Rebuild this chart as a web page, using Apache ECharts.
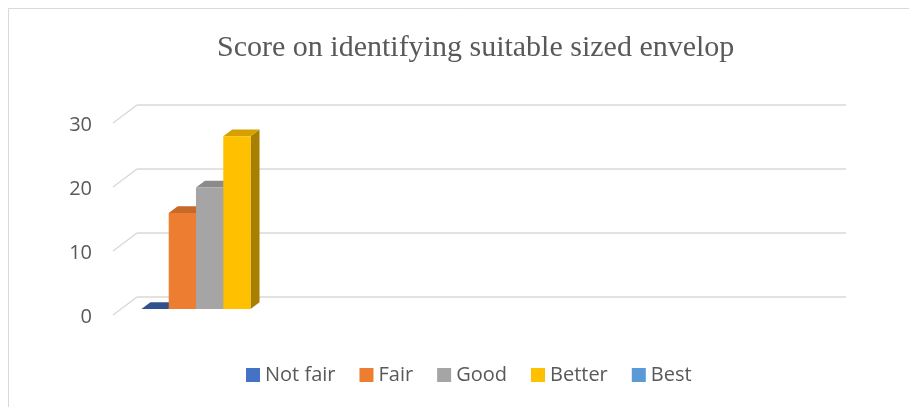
<!DOCTYPE html>
<html>
<head>
<meta charset="utf-8">
<title>Score on identifying suitable sized envelop</title>
<script src="https://cdn.jsdelivr.net/npm/echarts@6/dist/echarts.min.js"></script>
<style>
  html, body { margin: 0; padding: 0; background: #ffffff; }
  #chart { width: 909px; height: 407px; }
</style>
</head>
<body>
<div id="chart"></div>
<script>
// ---- data ----
const categories = ['1', '2', '3', '4'];
const seriesNames = ['Not fair', 'Fair', 'Good', 'Better', 'Best'];
const notFair = [0];
const fair = [15];
const good = [19];
const better = [27];
const best = [null];
const yTicks = [0, 10, 20, 30];

// ---- styling ----
const colors = ['#4472C4', '#ED7D31', '#A5A5A5', '#FFC000', '#5B9BD5'];
const gridColor = '#d9d9d9';
const textColor = '#595959';

// oblique projection of the floor: back wall -> front edge
const DEPTH_X = -24, DEPTH_Y = 18;
const BAR_FRONT = 0.667;   // bar front face, as a fraction of floor depth
const BAR_BACK = 0.292;    // bar back face
const GAP = 1.5;           // gap width, in bar widths

function shade(hex, k) {
  const n = parseInt(hex.slice(1), 16);
  const r = Math.round(((n >> 16) & 255) * k);
  const g = Math.round(((n >> 8) & 255) * k);
  const b = Math.round((n & 255) * k);
  return 'rgb(' + r + ',' + g + ',' + b + ')';
}

const allValues = [notFair, fair, good, better, best];

function makeBarRenderer(sIdx) {
  const nSeries = seriesNames.length;
  return function (params, api) {
    const cat = api.value(0);
    const val = api.value(1);
    if (val == null || isNaN(val)) return null;
    const base = api.coord([cat, 0]);
    const top = api.coord([cat, val]);
    const bandW = api.size([1, 0])[0];
    const bw = bandW / (nSeries + GAP);
    const x0 = base[0] - bandW / 2 + (GAP / 2) * bw + sIdx * bw;
    const fx = DEPTH_X * BAR_FRONT, fy = DEPTH_Y * BAR_FRONT;
    const bx = DEPTH_X * BAR_BACK, by = DEPTH_Y * BAR_BACK;
    const c = colors[sIdx];
    const yTop = top[1], yBase = base[1];
    return {
      type: 'group',
      children: [
        {
          type: 'polygon',
          shape: { points: [
            [x0 + fx + bw, yTop + fy], [x0 + bx + bw, yTop + by],
            [x0 + bx + bw, yBase + by], [x0 + fx + bw, yBase + fy]
          ] },
          style: { fill: shade(c, 0.66) }
        },
        {
          type: 'polygon',
          shape: { points: [
            [x0 + fx, yTop + fy], [x0 + fx + bw, yTop + fy],
            [x0 + bx + bw, yTop + by], [x0 + bx, yTop + by]
          ] },
          style: { fill: shade(c, sIdx === 0 ? 0.72 : 0.84) }
        },
        {
          type: 'rect',
          shape: { x: x0 + fx, y: yTop + fy, width: bw, height: yBase - yTop },
          style: { fill: c }
        }
      ]
    };
  };
}

const barSeries = seriesNames.map(function (name, i) {
  return {
    name: name,
    type: 'custom',
    xAxisIndex: 0,
    yAxisIndex: 0,
    itemStyle: { color: colors[i] },
    renderItem: makeBarRenderer(i),
    data: allValues[i].map(function (v, k) { return [k, v]; }),
    z: 3
  };
});

// side-wall gridlines running from the back wall to the front edge
const wallSeries = {
  type: 'custom',
  xAxisIndex: 0,
  yAxisIndex: 0,
  silent: true,
  z: 1,
  renderItem: function (params, api) {
    const p = api.coord([0, api.value(1)]);
    const x = params.coordSys.x;
    return {
      type: 'line',
      shape: { x1: x, y1: p[1], x2: x + DEPTH_X, y2: p[1] + DEPTH_Y },
      style: { stroke: gridColor, lineWidth: 1.5 }
    };
  },
  data: yTicks.map(function (v) { return [0, v]; })
};

const chart = echarts.init(document.getElementById('chart'), null, { renderer: 'canvas' });

chart.setOption({
  backgroundColor: '#ffffff',
  animation: false,
  title: {
    text: 'Score on identifying suitable sized envelop',
    left: 217,
    top: 33,
    padding: 0,
    textStyle: {
      fontFamily: 'Liberation Serif',
      fontSize: 30,
      fontWeight: 'normal',
      color: textColor
    }
  },
  legend: {
    data: seriesNames,
    left: 246,
    top: 365,
    padding: 0,
    icon: 'rect',
    itemWidth: 14,
    itemHeight: 14,
    itemGap: 24,
    textStyle: { fontFamily: 'Open Sans', fontSize: 20, color: textColor }
  },
  graphic: [{
    type: 'rect',
    silent: true,
    shape: { x: 8.5, y: 8.5, width: 1000, height: 500 },
    style: { fill: 'none', stroke: gridColor, lineWidth: 1 },
    z: -10
  }],
  grid: [
    // back wall
    { left: 137, right: 63, top: 105, bottom: 110, containLabel: false },
    // front edge of the floor (carries the value labels)
    { left: 113, right: 87, top: 125, bottom: 90, containLabel: false }
  ],
  xAxis: [
    {
      type: 'category', gridIndex: 0, data: categories,
      axisLine: { show: false }, axisTick: { show: false }, axisLabel: { show: false },
      splitLine: { show: false }
    },
    {
      type: 'category', gridIndex: 1, data: categories,
      axisLine: { show: false }, axisTick: { show: false }, axisLabel: { show: false },
      splitLine: { show: false }
    }
  ],
  yAxis: [
    {
      type: 'value', gridIndex: 0, min: 0, max: 30, interval: 10,
      axisLine: { show: false }, axisTick: { show: false }, axisLabel: { show: false },
      splitLine: { show: true, lineStyle: { color: gridColor, width: 1.5 } }
    },
    {
      type: 'value', gridIndex: 1, min: 0, max: 30, interval: 10,
      axisLine: { show: false }, axisTick: { show: false },
      splitLine: { show: false },
      axisLabel: {
        show: true, margin: 21,
        fontFamily: 'Open Sans', fontSize: 20, color: textColor
      }
    }
  ],
  series: [wallSeries].concat(barSeries)
});
</script>
</body>
</html>
